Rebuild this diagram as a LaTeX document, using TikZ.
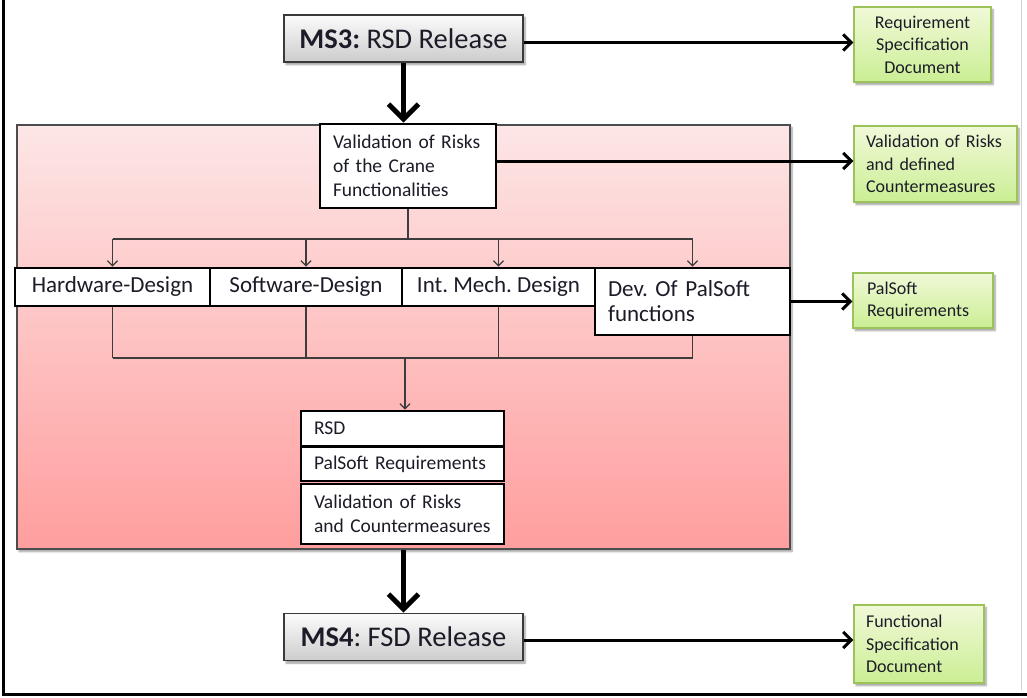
\documentclass[tikz,border=0pt]{standalone}
\usepackage{fontspec}
\setmainfont{Carlito}
\usetikzlibrary{arrows.meta,shadows.blur}
\definecolor{inktxt}{HTML}{1C1C28}
\definecolor{msframe}{HTML}{3A3A3A}
\definecolor{greenframe}{HTML}{9CC25A}
\definecolor{greentop}{HTML}{F0F9D8}
\definecolor{greenbot}{HTML}{CBEE94}
\definecolor{pinktop}{HTML}{FDE6E6}
\definecolor{pinkbot}{HTML}{FF9E9E}
\definecolor{wire}{HTML}{3C3C3C}
\frenchspacing
\begin{document}
\begin{tikzpicture}[x=1pt,y=-1pt,
  softshadow/.style={blur shadow={shadow xshift=2pt,shadow yshift=-2.5pt,shadow blur steps=6,shadow opacity=40}},
  milestone/.style={draw=msframe, line width=1.6pt, top color=gray!3, bottom color=gray!40,
    softshadow, text=inktxt, font=\fontsize{28.5}{32}\selectfont, inner sep=0pt,
    minimum width=239pt, minimum height=47pt},
  phasebox/.style={draw=black!70, line width=1.2pt, top color=pinktop, bottom color=pinkbot,
    softshadow, inner sep=0pt},
  task/.style={draw=black, line width=2.8pt, fill=white, text=inktxt, inner ysep=0pt},
  rowtask/.style={task, font=\fontsize{23}{27}\selectfont, inner xsep=0pt, minimum height=38pt,
    text height=16pt, text depth=5pt},
  listtask/.style={task, font=\fontsize{19.5}{24}\selectfont, align=left, inner xsep=13pt,
    text width=177pt},
  output/.style={draw=greenframe, line width=1.4pt, top color=greentop, bottom color=greenbot,
    softshadow, text=inktxt, font=\fontsize{18}{22.5}\selectfont, inner ysep=0pt},
  heavy/.style={line width=5pt, -{Straight Barb[length=15pt,width=30pt,line width=5pt]}},
  feed/.style={line width=3pt, -{Straight Barb[length=8pt,width=16pt,line width=3pt]}},
  wireline/.style={draw=wire, line width=1.3pt},
  wirearrow/.style={wireline, -{Straight Barb[length=5pt,width=10pt,line width=1.3pt]}}
]
\useasboundingbox (0,0) rectangle (1027,697);

% outer frame
\draw[line width=3pt] (3,0) -- (3,694) -- (1027,694);
\draw[black!18, line width=1pt] (1021,0) -- (1021,690);

% milestones
\node[milestone] (ms3) at (403.5,38.5) {\textbf{MS3:} RSD Release};
\node[milestone] (ms4) at (403.5,637) {\textbf{MS4}: FSD Release};

% phase background
\node[phasebox, minimum width=773pt, minimum height=424pt] (phase) at (403.5,337) {};

% risk validation
\node[task, font=\fontsize{19.5}{24}\selectfont, align=left, inner xsep=13pt, text width=150pt,
  minimum height=84pt] (val) at (408,166)
  {Validation of Risks\\of the Crane\\Functionalities};

% design row
\node[rowtask, minimum width=195pt] (hw) at (112.5,287) {Hardware-Design};
\node[rowtask, minimum width=192pt] (sw) at (306,287) {Software-Design};
\node[rowtask, minimum width=193pt] (im) at (498.5,287) {Int. Mech. Design};
\node[task, font=\fontsize{23}{25}\selectfont, align=left, inner xsep=13pt, text width=169pt,
  minimum height=67pt] (dev) at (692.5,301.5) {Dev. Of PalSoft\\functions};

% result stack
\node[listtask, minimum height=35pt] (rsd) at (402.5,428.5) {RSD};
\node[listtask, minimum height=34pt] (pal) at (402.5,464) {PalSoft Requirements};
\node[listtask, minimum height=60pt] (vr) at (402.5,514) {Validation of Risks\\and Countermeasures};

% deliverables
\node[output, align=center, inner xsep=0pt, text width=137pt, minimum height=75pt] (req) at (922.5,44.5)
  {Requirement\\Specification\\Document};
\node[output, align=left, inner xsep=12pt, text width=139pt, minimum height=76pt] (valg) at (935.5,164)
  {Validation of Risks\\and defined\\Countermeasures};
\node[output, align=left, inner xsep=14pt, text width=112pt, minimum height=55pt] (palg) at (923,300.5)
  {PalSoft\\Requirements};
\node[output, align=left, inner xsep=12pt, text width=106pt, minimum height=78pt] (fun) at (919,644)
  {Functional\\Specification\\Document};

% main flow
\draw[heavy] (ms3.south) -- (ms3.south |- val.north);
\draw[heavy] (phase.south -| ms4.north) -- (ms4.north);

% deliverable arrows
\draw[feed] ([yshift=-4pt]ms3.east) -- ([yshift=-4pt]ms3.east -| req.west);
\draw[feed] ([yshift=5pt]val.east) -- ([yshift=5pt]val.east -| valg.west);
\draw[feed] (dev.east) -- (dev.east -| palg.west);
\draw[feed] ([yshift=-3pt]ms4.east) -- ([yshift=-3pt]ms4.east -| fun.west);

% fan-out to the design tasks
\coordinate (split) at (0,239);
\draw[wireline] (val.south) -- (val.south |- split);
\draw[wireline] (hw.north |- split) -- (dev.north |- split);
\foreach \t in {hw,sw,im,dev}
  \draw[wirearrow] (\t.north |- split) -- (\t.north);

% merge into the result stack
\coordinate (merge) at (0,358);
\foreach \t in {hw,sw,im,dev}
  \draw[wireline] (\t.south) -- (\t.south |- merge);
\draw[wireline] (hw.south |- merge) -- (dev.south |- merge);
\draw[wirearrow] ([xshift=2.5pt]rsd.north |- merge) -- ([xshift=2.5pt]rsd.north);
\end{tikzpicture}
\end{document}
